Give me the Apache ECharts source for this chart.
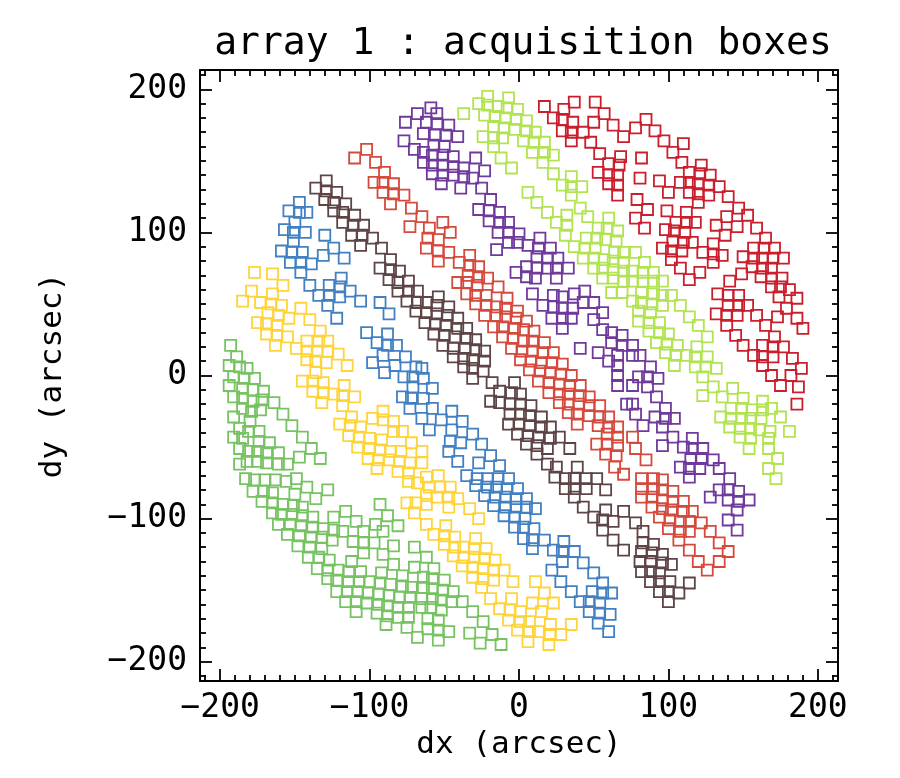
<!DOCTYPE html>
<html>
<head>
<meta charset="utf-8">
<title>array 1 : acquisition boxes</title>
<script src="https://cdn.jsdelivr.net/npm/echarts@6/dist/echarts.min.js"></script>
<style>
html, body { margin: 0; padding: 0; background: #fff; }
#chartDiv { width: 900px; height: 778px; }
</style>
</head>
<body>
<div id="chartDiv"></div>
<script>
// box centres [dx, dy] in arcsec, one list per stripe
var crimsonBoxes = [[17,188],[37,191],[51,191],[23,180],[30,186],[29,179],[36,177],[57,183],[29,171],[35,170],[43,170],[50,177],[63,175],[70,167],[35,164],[48,163],[54,155],[68,153],[60,148],[67,147],[53,142],[60,140],[66,140],[60,134],[66,133],[66,126],
    [78,173],[85,179],[91,171],[97,164],[103,156],[110,162],[82,152],[109,149],[122,147],[81,138],[94,136],[114,142],[121,141],[128,140],[100,128],[108,135],[114,135],[120,134],[127,133],[134,132],[79,123],[114,128],[120,127],[127,126],[140,125],[86,116],[99,115],[112,114],[120,121],[147,117],[153,112],[78,110],[105,107],[112,107],[118,107],[132,105],[139,111],[146,104],[159,103],[84,103],[98,102],[104,101],[111,100],[138,98],[165,96],[103,94],[110,93],[116,93],[130,92],[96,89],[102,87],[109,87],[123,86],[130,85],[136,84],[157,89],[164,89],[171,89],[102,81],[108,75],[121,72],[130,79],[150,83],[157,82],[163,82],[170,82],[177,82],[156,76],[163,75],[169,75],[114,67],[141,66],[149,71],[162,69],[169,68],[176,68],
    [169,62],[175,62],[181,60],[133,57],[140,56],[147,56],[174,55],[186,54],[140,49],[147,49],[153,49],[179,47],[132,43],[139,42],[146,42],[159,42],[173,41],[186,40],[139,35],[165,35],[190,33],[145,28],[171,27],[150,21],[163,21],[170,20],[177,20],[157,14],[163,13],[170,13],[183,12],[163,7],[189,5],[169,0],[182,0],[175,-7],[187,-8],[186,-20]];

var limeBoxes = [[-21,195],[-7,194],[-37,183],[-27,190],[-21,189],[-14,188],[-8,187],[-1,186],[-23,182],[-16,181],[-9,180],[-2,179],[5,178],[-17,174],[-10,173],[-3,172],[5,171],[11,170],[-24,167],[-17,166],[-11,166],[3,164],[10,163],[17,163],[-17,160],[9,156],[17,156],[23,154],[-12,152],[16,149],[-5,145],[23,141],[35,139],[29,133],[35,132],[42,132],[35,126],[6,128],[12,121],[41,117],[19,114],[32,112],[46,111],[25,107],[32,105],[53,103],[60,110],[31,98],[45,96],[52,96],[59,103],[66,101],[37,90],[44,89],[51,89],[58,95],[65,94],[43,82],[50,82],[57,81],[64,86],[70,86],[63,80],[70,79],[50,75],[56,75],[63,74],[70,73],[56,68],[63,68],[70,66],[62,58],[69,58],
    [78,86],[84,79],[76,73],[83,72],[90,72],[76,66],[83,66],[90,66],[96,66],[82,58],[90,57],[96,56],[102,56],[76,52],[82,51],[89,50],[96,49],[108,49],[80,45],[88,44],[114,41],[80,38],[87,37],[94,37],[120,35],[87,31],[94,30],[100,29],[126,27],[92,23],[99,22],[106,21],[119,20],[98,16],[105,14],[112,14],[118,13],[126,13],[104,7],[118,6],[125,6],[132,5],[123,-1],[130,-8],[123,-14],[136,-15],[143,-9],[150,-16],[163,-18],[142,-23],[149,-23],[156,-24],[163,-24],[169,-23],[135,-29],[142,-30],[149,-30],[155,-30],[162,-30],[175,-29],[141,-36],[148,-37],[155,-37],[161,-38],[168,-39],[181,-39],[148,-43],[155,-44],[167,-44],[154,-51],[167,-51],[173,-58],[167,-65],[172,-72]];

var purpleBoxes = [[-76,177],[-68,183],[-77,164],[-70,158],[-59,187],[-62,177],[-55,183],[-55,176],[-47,175],[-64,169],[-56,168],[-49,168],[-41,167],[-57,161],[-50,160],[-64,156],[-58,154],[-51,154],[-44,153],[-29,152],[-64,149],[-58,147],[-51,147],[-44,146],[-37,145],[-23,143],[-58,141],[-51,140],[-44,140],[-37,139],[-31,138],[-52,134],[-39,131],[-25,131],[-19,123],[-27,116],[-20,115],[-13,114],[-20,108],[-13,107],[-7,107],[-14,100],[-7,100],[0,99],[14,96],[-15,88],[-7,93],[-1,93],[6,91],[13,89],[21,89],[12,83],[19,82],[26,82],[5,76],[12,75],[19,75],[25,75],[33,75],[-2,72],[5,69],[11,68],[25,68],
    [16,49],[9,57],[23,56],[29,55],[37,57],[44,59],[23,48],[29,47],[36,47],[43,51],[50,51],[35,40],[29,33],[22,40],[29,40],[50,39],[56,44],[56,32],[62,30],[69,28],[62,23],[69,21],[41,19],[53,16],[60,10],[66,14],[66,7],[66,0],[66,-7],[72,-20],[76,21],[81,14],[88,6],[76,14],[80,-1],[86,-1],[93,-2],[76,-7],[86,-8],[92,-15],[76,-20],[98,-23],[78,-27],[91,-29],[98,-30],[104,-30],[83,-35],[96,-36],[103,-43],[116,-44],[96,-49],[110,-50],[116,-51],[123,-51],[108,-64],[115,-58],[122,-58],[130,-59],[114,-65],[121,-65],[134,-65],[114,-71],[141,-72],[128,-85],[134,-80],[140,-80],[147,-81],[140,-87],[147,-88],[154,-87],[146,-94],[140,-101],[146,-108]];

var tomatoBoxes = [[-110,152],[-102,158],[-96,149],[-90,142],[-97,135],[-91,135],[-84,134],[-91,128],[-84,127],[-77,126],[-86,120],[-72,117],[-73,104],[-65,111],[-60,103],[-51,107],[-46,100],[-61,96],[-54,95],[-62,89],[-54,87],[-47,86],[-54,80],[-40,79],[-33,84],[-33,77],[-27,76],[-34,70],[-27,69],[-21,68],[-41,65],[-35,65],[-28,63],[-14,62],[-35,57],[-29,56],[-22,56],[-8,54],[-29,50],[-22,49],[-15,48],[-9,47],[-1,45],[-23,42],[-15,42],[-9,41],[-2,40],[5,38],[-17,34],[-11,34],[-3,33],[3,32],[10,31],[-11,27],[-4,26],[3,24],[9,24],[17,23],[-5,19],[2,17],[9,17],[16,16],[23,16],[1,11],[8,10],[15,9],[22,9],[29,8],[7,4],[14,3],[21,2],[28,1],[35,0],
    [13,-4],[20,-5],[27,-6],[34,-7],[41,-7],[20,-12],[27,-13],[33,-13],[41,-14],[47,-15],[27,-19],[33,-20],[40,-20],[47,-21],[54,-21],[33,-26],[39,-27],[47,-28],[54,-29],[60,-29],[39,-34],[53,-35],[60,-36],[66,-36],[59,-41],[66,-43],[52,-48],[59,-48],[66,-49],[58,-55],[65,-56],[64,-64],[70,-69],[76,-43],[78,-51],[85,-59],[82,-72],[90,-72],[96,-73],[82,-79],[90,-79],[96,-80],[103,-81],[82,-85],[89,-85],[96,-87],[103,-88],[110,-88],[89,-92],[96,-93],[102,-94],[110,-95],[116,-95],[94,-99],[101,-101],[108,-102],[114,-102],[122,-103],[100,-107],[108,-109],[114,-109],[128,-109],[107,-115],[134,-117],[114,-122],[140,-123],[120,-130],[134,-130],[126,-136]];

var brownBoxes = [[-129,136],[-136,131],[-129,129],[-122,128],[-130,123],[-124,121],[-116,120],[-124,115],[-118,114],[-110,112],[-118,107],[-111,105],[-104,105],[-112,98],[-105,98],[-98,96],[-106,91],[-92,89],[-86,81],[-93,75],[-86,74],[-80,73],[-87,67],[-74,66],[-81,65],[-81,59],[-74,59],[-68,59],[-75,52],[-68,51],[-69,45],[-54,55],[-62,51],[-55,49],[-47,48],[-62,44],[-55,43],[-48,42],[-41,40],[-63,37],[-56,36],[-49,35],[-41,33],[-35,33],[-57,29],[-50,28],[-43,27],[-35,26],[-29,25],[-51,21],[-44,19],[-36,19],[-29,18],[-23,17],[-44,13],[-37,12],[-31,11],[-23,10],[-37,6],[-31,5],[-24,3],[-31,-2],
    [-18,-5],[-3,-5],[-19,-18],[-13,-11],[-5,-12],[1,-13],[-13,-19],[-6,-20],[1,-20],[8,-21],[-6,-27],[1,-27],[7,-28],[15,-29],[-7,-34],[0,-34],[7,-35],[15,-36],[21,-36],[-1,-41],[6,-42],[13,-43],[21,-44],[27,-43],[5,-48],[12,-49],[19,-51],[34,-51],[12,-55],[19,-62],[25,-64],[39,-64],[24,-71],[31,-72],[37,-72],[45,-72],[52,-72],[31,-79],[37,-79],[45,-79],[58,-80],[37,-85],[43,-92],[50,-99],[58,-94],[56,-101],[63,-102],[70,-95],[56,-108],[63,-115],[70,-122],[78,-103],[83,-109],[83,-117],[90,-118],[82,-123],[89,-124],[96,-125],[81,-130],[88,-130],[96,-131],[102,-132],[82,-137],[88,-137],[94,-138],[88,-144],[94,-144],[101,-144],[114,-145],[94,-151],[100,-151],[107,-152],[100,-158]];

var blueBoxes = [[-147,121],[-154,115],[-147,114],[-142,114],[-150,107],[-157,102],[-151,100],[-143,100],[-151,94],[-130,98],[-124,89],[-159,87],[-152,86],[-145,86],[-131,84],[-117,82],[-153,79],[-146,79],[-139,78],[-146,72],[-119,68],[-140,63],[-134,56],[-127,63],[-127,56],[-120,62],[-120,55],[-113,59],[-106,52],[-128,49],[-93,51],[-87,43],[-122,40],[-102,30],[-95,23],[-88,29],[-88,21],[-82,21],[-98,9],[-91,14],[-90,2],[-83,7],[-76,13],[-69,6],[-77,-1],[-71,-1],[-71,-8],[-78,-15],[-72,-16],[-73,-23],[-65,5],[-64,-2],[-58,-9],[-64,-16],[-58,-23],[-65,-30],[-52,-31],[-45,-25],[-60,-38],[-45,-38],[-38,-32],[-31,-41],[-46,-46],[-39,-47],[-25,-48],[-47,-53],[-41,-60],[-27,-61],[-19,-56],[-13,-63],
    [-35,-70],[-28,-72],[-21,-72],[-14,-72],[-7,-72],[-29,-77],[-21,-78],[-15,-78],[-8,-79],[-1,-79],[-23,-84],[-16,-85],[-9,-85],[-2,-86],[5,-86],[-17,-91],[-9,-92],[-2,-92],[5,-92],[11,-93],[-10,-98],[-3,-99],[4,-100],[-3,-106],[3,-106],[10,-107],[3,-114],[9,-115],[17,-115],[9,-121],[23,-122],[30,-116],[29,-123],[37,-123],[29,-130],[43,-131],[22,-136],[50,-138],[28,-144],[56,-145],[35,-151],[49,-151],[56,-152],[62,-152],[41,-158],[47,-158],[54,-159],[47,-165],[54,-166],[61,-167],[53,-173],[60,-179]];

var yellowBoxes = [[-177,72],[-165,71],[-158,63],[-179,59],[-165,57],[-185,52],[-173,51],[-166,50],[-159,49],[-146,47],[-168,44],[-161,42],[-154,40],[-140,39],[-175,37],[-169,36],[-162,35],[-169,29],[-162,28],[-155,27],[-133,31],[-142,24],[-134,24],[-128,24],[-163,21],[-149,19],[-142,17],[-135,17],[-128,17],[-121,15],[-142,11],[-136,10],[-129,9],[-115,7],[-136,2],[-145,-4],[-138,-4],[-131,-5],[-138,-11],[-131,-12],[-124,-13],[-117,-7],[-118,-14],[-110,-15],[-132,-19],[-118,-21],[-112,-29],[-120,-34],[-113,-35],[-106,-36],[-98,-30],[-91,-25],[-91,-31],[-84,-32],[-114,-42],[-107,-43],[-100,-44],[-92,-45],[-84,-39],[-78,-39],[-108,-50],[-100,-51],[-93,-52],[-86,-53],[-79,-53],[-72,-47],[-101,-58],[-94,-59],[-87,-59],[-80,-60],[-73,-61],[-95,-65],[-81,-67],[-74,-68],[-65,-53],[-65,-61],
    [-74,-74],[-68,-75],[-75,-89],[-69,-89],[-70,-96],[-62,-71],[-54,-70],[-60,-78],[-53,-78],[-46,-78],[-62,-84],[-55,-85],[-47,-85],[-41,-86],[-62,-90],[-47,-92],[-33,-93],[-27,-100],[-62,-104],[-49,-105],[-57,-111],[-50,-112],[-43,-113],[-29,-114],[-50,-118],[-43,-120],[-37,-120],[-30,-121],[-22,-121],[-44,-126],[-37,-127],[-30,-127],[-23,-128],[-16,-129],[-38,-133],[-31,-134],[-24,-135],[-17,-136],[-10,-136],[-31,-141],[-24,-142],[-17,-143],[-4,-144],[11,-144],[-25,-148],[17,-152],[-19,-156],[-5,-156],[-13,-163],[-6,-164],[1,-165],[9,-159],[15,-165],[23,-159],[-7,-171],[1,-172],[7,-172],[21,-174],[-1,-178],[7,-179],[13,-179],[21,-181],[28,-181],[35,-174],[6,-186],[20,-188]];

var greenBoxes = [[-193,21],[-189,13],[-194,7],[-187,6],[-182,5],[-191,-1],[-184,-2],[-177,-2],[-194,-7],[-185,-9],[-178,-10],[-171,-11],[-191,-15],[-185,-16],[-178,-18],[-172,-17],[-164,-19],[-185,-23],[-179,-25],[-173,-24],[-158,-27],[-191,-29],[-180,-32],[-187,-37],[-181,-39],[-174,-39],[-152,-35],[-191,-43],[-185,-44],[-174,-46],[-167,-47],[-145,-43],[-187,-51],[-181,-53],[-175,-53],[-169,-54],[-161,-54],[-139,-51],[-147,-57],[-133,-58],[-187,-62],[-182,-60],[-175,-60],[-169,-61],[-161,-62],[-155,-62],
    [-183,-72],[-177,-73],[-170,-73],[-163,-73],[-156,-74],[-149,-72],[-178,-81],[-171,-81],[-165,-82],[-150,-83],[-142,-78],[-136,-86],[-128,-80],[-172,-88],[-165,-89],[-158,-90],[-151,-91],[-145,-92],[-165,-96],[-159,-97],[-152,-97],[-145,-98],[-138,-99],[-116,-95],[-124,-99],[-93,-90],[-88,-98],[-109,-102],[-161,-104],[-153,-104],[-146,-105],[-138,-106],[-131,-107],[-124,-108],[-118,-109],[-104,-109],[-96,-104],[-91,-109],[-81,-105],[-155,-111],[-147,-112],[-139,-113],[-132,-113],[-125,-115],[-111,-116],[-104,-117],[-97,-117],[-148,-119],[-140,-120],[-132,-121],[-104,-124],[-91,-125],[-84,-119],[-70,-120],
    [-141,-127],[-134,-127],[-127,-129],[-112,-130],[-84,-132],[-135,-135],[-128,-136],[-121,-136],[-114,-137],[-106,-137],[-92,-138],[-78,-140],[-70,-134],[-128,-142],[-122,-143],[-114,-144],[-107,-144],[-100,-144],[-93,-145],[-86,-146],[-78,-147],[-72,-148],[-122,-151],[-115,-151],[-108,-151],[-101,-152],[-94,-153],[-87,-154],[-80,-155],[-73,-155],[-116,-158],[-109,-158],[-102,-159],[-94,-160],[-88,-161],[-81,-162],[-74,-162],[-109,-165],[-95,-166],[-88,-168],[-81,-169],[-74,-169],[-89,-174],[-75,-176],[-68,-183],
    [-62,-127],[-57,-135],[-64,-141],[-58,-142],[-50,-143],[-64,-148],[-58,-149],[-51,-150],[-44,-151],[-65,-156],[-58,-156],[-52,-157],[-45,-158],[-38,-158],[-65,-162],[-59,-162],[-52,-164],[-31,-165],[-61,-170],[-54,-171],[-24,-172],[-61,-177],[-54,-178],[-47,-179],[-33,-180],[-18,-181],[-54,-185],[-26,-187],[-12,-188]];

var stripeNames = ['crimson', 'lime', 'purple', 'tomato', 'brown', 'blue', 'yellow', 'green'];
var stripeColors = ['#c91f2c', '#b2e352', '#6f3a9c', '#d44a3d', '#5d4545', '#4280c2', '#fed43a', '#77c263'];
var stripes = [crimsonBoxes, limeBoxes, purpleBoxes, tomatoBoxes, brownBoxes, blueBoxes, yellowBoxes, greenBoxes];

// monospaced face comes closest to the evenly spaced IDL vector font
var FONT = 'DejaVu Sans Mono';
var myChart = echarts.init(document.getElementById('chartDiv'));

// IDL style minus sign on the tick labels
function minusLabel(value) {
    return String(value).replace('-', '\u2212');
}

function frameAxis(position, withLabels) {
    return {
        type: 'value',
        position: position,
        min: -213.5,
        max: 213.5,
        splitNumber: 4,
        axisLine: {show: true, onZero: false, lineStyle: {color: '#000', width: 2}},
        axisTick: {show: true, inside: true, length: 12, lineStyle: {color: '#000', width: 1.8}},
        minorTick: {show: true, splitNumber: 10, length: 6, lineStyle: {color: '#000', width: 1.8}},
        splitLine: {show: false},
        axisLabel: {
            show: withLabels,
            showMinLabel: false,
            showMaxLabel: false,
            margin: 11,
            color: '#000',
            fontFamily: FONT,
            fontSize: 33,
            formatter: minusLabel
        }
    };
}

var xBottom = frameAxis('bottom', true);
xBottom.name = 'dx (arcsec)';
xBottom.nameLocation = 'middle';
xBottom.nameGap = 45;
xBottom.nameTextStyle = {color: '#000', fontFamily: FONT, fontSize: 31};

var yLeft = frameAxis('left', true);
yLeft.axisLabel.margin = 13;
yLeft.name = 'dy (arcsec)';
yLeft.nameLocation = 'middle';
yLeft.nameGap = 132;
yLeft.nameTextStyle = {color: '#000', fontFamily: FONT, fontSize: 31};

var series = [];
for (var i = 0; i < stripes.length; i++) {
    series.push({
        name: stripeNames[i],
        type: 'scatter',
        data: stripes[i],
        symbol: 'rect',
        symbolSize: 11,
        silent: true,
        itemStyle: {
            color: 'rgba(0,0,0,0)',
            borderColor: stripeColors[i],
            borderWidth: 1.8,
            opacity: 1
        }
    });
}

myChart.setOption({
    animation: false,
    backgroundColor: '#fff',
    title: {
        text: 'array 1 : acquisition boxes',
        left: 518,
        top: 20,
        textAlign: 'center',
        textStyle: {color: '#000', fontFamily: FONT, fontSize: 38, fontWeight: 'normal'}
    },
    grid: {left: 200, right: 62, top: 70, bottom: 97, containLabel: false},
    xAxis: [xBottom, frameAxis('top', false)],
    yAxis: [yLeft, frameAxis('right', false)],
    series: series
});
</script>
</body>
</html>
